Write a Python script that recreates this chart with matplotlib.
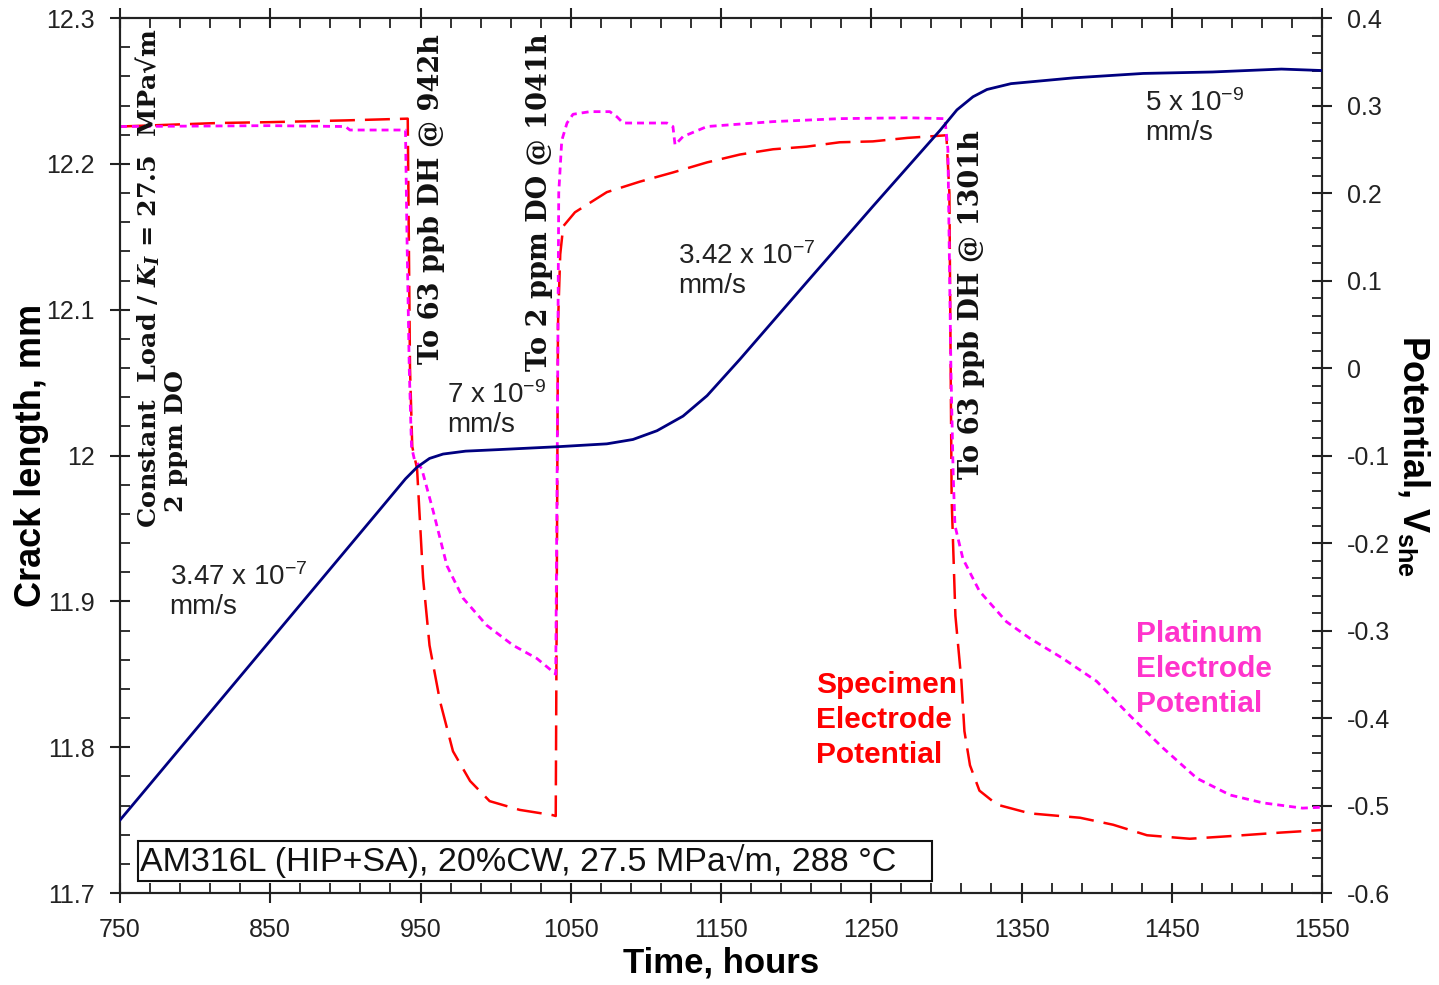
import matplotlib
matplotlib.use("Agg")
import matplotlib.pyplot as plt
from matplotlib.ticker import MultipleLocator, FuncFormatter
from matplotlib.patches import Rectangle

plt.rcParams['font.family'] = ['Liberation Sans', 'DejaVu Sans']
plt.rcParams['mathtext.fontset'] = 'custom'
plt.rcParams['mathtext.rm'] = 'Liberation Sans'
plt.rcParams['mathtext.bf'] = 'Liberation Sans:bold'
plt.rcParams['mathtext.it'] = 'DejaVu Serif:italic:bold'

# crack length (left axis, mm)
crack_t = [750, 923, 940, 947.7, 956, 965, 980, 1000.9, 1040.8, 1074, 1091.4, 1107.4,
           1124.7, 1140.7, 1162.6, 1207.2, 1251.2, 1295.8, 1307, 1317.7, 1327, 1343,
           1385, 1431, 1477, 1523, 1550]
crack_mm = [11.750, 11.963, 11.984, 11.992, 11.998, 12.001, 12.003, 12.004, 12.006,
            12.008, 12.011, 12.017, 12.027, 12.041, 12.066, 12.119, 12.171, 12.223,
            12.237, 12.246, 12.251, 12.255, 12.259, 12.262, 12.263, 12.265, 12.264]

# specimen electrode potential (right axis, V_she)
spec_t = [750, 815, 850, 900, 941.5, 943, 944.5, 947.7, 951.7, 956, 963, 971.6, 983,
          996, 1016, 1038, 1040, 1041.5, 1043, 1045, 1052.8, 1074, 1096, 1118, 1140.7,
          1162.6, 1184.6, 1207, 1229, 1251, 1274, 1300, 1302, 1303.5, 1306, 1310, 1312,
          1315.7, 1322, 1333.7, 1355.6, 1389, 1411, 1433.5, 1462, 1488.8, 1522, 1550]
spec_v = [0.276, 0.280, 0.281, 0.283, 0.285, 0.0, -0.09, -0.115, -0.24, -0.317,
          -0.381, -0.438, -0.472, -0.495, -0.505, -0.511, -0.512, 0.05, 0.13, 0.162,
          0.178, 0.201, 0.213, 0.2235, 0.235, 0.244, 0.25, 0.253, 0.258, 0.259, 0.263,
          0.266, 0.2, -0.15, -0.283, -0.358, -0.415, -0.454, -0.483, -0.499, -0.509,
          -0.514, -0.522, -0.534, -0.538, -0.535, -0.531, -0.528]

# platinum electrode potential (right axis, V_she)
plat_t = [750, 850, 900, 903, 940, 941, 942.5, 944, 946, 950.8, 958.5, 967.6, 978.3,
          994, 1011.7, 1027.5, 1038, 1040, 1041, 1042, 1044, 1047.5, 1051.5, 1062.8,
          1076, 1080.8, 1084.8, 1114, 1118, 1119.4, 1124.7, 1140.7, 1184.6, 1229,
          1273.8, 1299, 1301, 1303, 1304.5, 1305.7, 1311, 1322, 1340, 1355.6, 1377.6,
          1400, 1422, 1444, 1466.8, 1488.8, 1510.7, 1537, 1550]
plat_v = [0.276, 0.277, 0.276, 0.272, 0.272, 0.15, 0.0, -0.09, -0.105, -0.115,
          -0.164, -0.226, -0.263, -0.294, -0.317, -0.332, -0.347, -0.35, -0.1, 0.2,
          0.26, 0.28, 0.29, 0.293, 0.293, 0.287, 0.28, 0.28, 0.276, 0.255, 0.2645,
          0.276, 0.2816, 0.285, 0.286, 0.285, 0.25, 0.0, -0.12, -0.18, -0.218, -0.255,
          -0.29, -0.309, -0.332, -0.358, -0.397, -0.434, -0.469, -0.488, -0.497,
          -0.503, -0.502]

fig = plt.figure(figsize=(14.39, 9.85), dpi=100)
ax = fig.add_axes([0.0834, 0.0934, 0.8353, 0.8883])
ax2 = ax.twinx()

ax.plot(crack_t, crack_mm, color='#000080', lw=2.0, zorder=3)
ax2.plot(spec_t, spec_v, color='#FF0000', lw=1.8, dashes=(10, 4))
ax2.plot(plat_t, plat_v, color='#FF00FF', lw=2.0, dashes=(2.5, 1.8))

ax.set_zorder(ax2.get_zorder() + 1)
ax.patch.set_visible(False)

ax.set_xlim(750, 1550)
ax.set_ylim(11.7, 12.3)
ax2.set_ylim(-0.6, 0.4)

fmt = FuncFormatter(lambda v, p: f'{round(v, 3):g}')
ax.xaxis.set_major_locator(MultipleLocator(100, offset=50))
ax.xaxis.set_minor_locator(MultipleLocator(20, offset=10))
ax.xaxis.set_major_formatter(fmt)
ax.yaxis.set_major_locator(MultipleLocator(0.1))
ax.yaxis.set_minor_locator(MultipleLocator(0.02))
ax.yaxis.set_major_formatter(fmt)
ax2.yaxis.set_major_locator(MultipleLocator(0.1))
ax2.yaxis.set_minor_locator(MultipleLocator(0.02))
ax2.yaxis.set_major_formatter(fmt)

for a in (ax, ax2):
    for s in a.spines.values():
        s.set_linewidth(1.5)
        s.set_color('#222222')
    a.tick_params(which='major', direction='inout', length=14, width=1.5,
                  labelsize=18, colors='#222222', pad=11)
    a.tick_params(which='minor', direction='in', length=7, width=1.3, colors='#222222')
ax.tick_params(axis='x', which='both', top=True)

ax.set_xlabel('Time, hours', fontsize=25, fontweight='bold', labelpad=3)
ax.set_ylabel('Crack length, mm', fontsize=26, fontweight='bold', labelpad=-2)
ax2.set_ylabel(r'Potential, V$_\mathbf{she}$', fontsize=26, fontweight='bold',
               rotation=-90, labelpad=30)

serif = dict(family=['DejaVu Serif'], fontweight='bold', fontsize=19.5,
             rotation=90, ha='center', va='bottom', color='#111111')
ax.text(768, 11.950, r'Constant  Load / $K_I$ = 27.5  MPa√m',
        **dict(serif, fontsize=18.3))
ax.text(787, 11.961, '2 ppm DO', **dict(serif, fontsize=18.3))
ax.text(957.6, 12.063, 'To 63 ppb DH @ 942h', **serif)
ax.text(1029.5, 12.058, 'To 2 ppm DO @ 1041h', **serif)
ax.text(1317, 11.984, 'To 63 ppb DH @ 1301h', **serif)

rate = dict(fontsize=20, ha='left', va='top', color='#222222', linespacing=1.15)
ax.text(783, 11.926, '3.47 x 10$^{-7}$\nmm/s', **rate)
ax.text(967.6, 12.051, '7 x 10$^{-9}$\nmm/s', **rate)
ax.text(1121.4, 12.146, '3.42 x 10$^{-7}$\nmm/s', **rate)
ax.text(1432, 12.251, '5 x 10$^{-9}$\nmm/s', **rate)

ax.text(1213, 11.852, 'Specimen\nElectrode\nPotential', fontsize=21.5,
        fontweight='bold', color='#FF0000', ha='left', va='top', linespacing=1.3)
ax.text(1426, 11.887, 'Platinum\nElectrode\nPotential', fontsize=21.5,
        fontweight='bold', color='#FF33CC', ha='left', va='top', linespacing=1.3)

ax.add_patch(Rectangle((762, 11.708), 528.4, 0.0276, fill=False,
                       ec='#111111', lw=1.5, zorder=4))
ax.text(763.5, 11.7218, 'AM316L (HIP+SA), 20%CW, 27.5 MPa√m, 288 °C', fontsize=24.5,
        ha='left', va='center', color='#111111', zorder=5)

fig.savefig('out.png', dpi=100)
